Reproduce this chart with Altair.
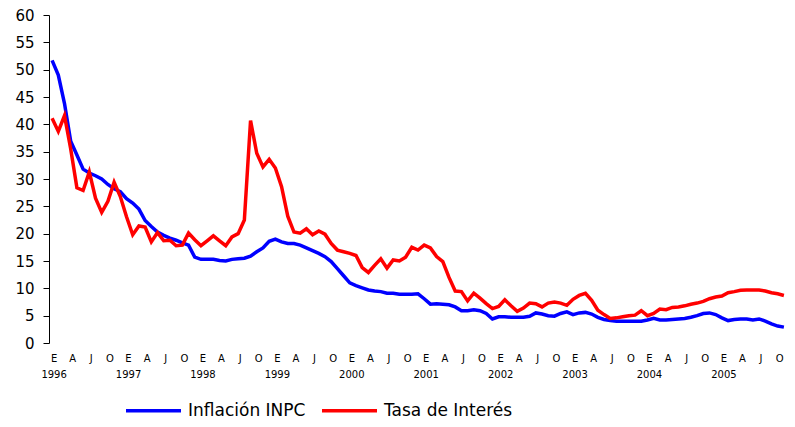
import altair as alt
import pandas as pd

# ---- data (Jan 1996 .. Nov 2005, monthly) ----
anios = [1996, 1997, 1998, 1999, 2000, 2001, 2002, 2003, 2004, 2005]
letras_trimestre = ["E", "A", "J", "O"]  # Enero, Abril, Julio, Octubre

inflacion = [
    51.7, 49.0, 43.8, 36.9, 34.4, 31.8, 31.1, 30.6, 30.0, 29.0, 28.2, 27.7,
    26.4, 25.6, 24.5, 22.4, 21.3, 20.3, 19.7, 19.2, 18.8, 18.3, 17.9, 15.7,
    15.3, 15.3, 15.3, 15.1, 15.0, 15.3, 15.4, 15.5, 15.9, 16.7, 17.4, 18.6,
    19.0, 18.5, 18.2, 18.2, 17.9, 17.4, 16.9, 16.4, 15.8, 14.9, 13.6, 12.3,
    11.0, 10.5, 10.1, 9.7, 9.5, 9.4, 9.1, 9.1, 8.9, 8.9, 8.9, 9.0,
    8.1, 7.1, 7.2, 7.1, 7.0, 6.6, 5.9, 5.9, 6.1, 5.9, 5.4, 4.4,
    4.8, 4.8, 4.7, 4.7, 4.7, 4.9, 5.5, 5.3, 5.0, 4.9, 5.4, 5.7,
    5.2, 5.5, 5.6, 5.3, 4.7, 4.3, 4.1, 4.0, 4.0, 4.0, 4.0, 4.0,
    4.2, 4.5, 4.2, 4.2, 4.3, 4.4, 4.5, 4.7, 5.0, 5.4, 5.5, 5.2,
    4.6, 4.1, 4.3, 4.4, 4.4, 4.2, 4.4, 4.0, 3.5, 3.1, 2.9,
]

tasa = [
    41.1, 38.7, 41.6, 35.5, 28.4, 27.9, 31.3, 26.5, 23.9, 25.9, 29.4, 26.8,
    23.1, 19.8, 21.4, 21.2, 18.5, 20.2, 18.7, 18.8, 17.8, 17.9, 20.1, 18.9,
    17.8, 18.7, 19.6, 18.7, 17.8, 19.4, 20.0, 22.5, 40.7, 34.7, 32.2, 33.6,
    32.0, 28.6, 23.2, 20.3, 20.1, 20.9, 19.8, 20.5, 19.9, 18.2, 17.0, 16.7,
    16.4, 16.0, 13.8, 12.9, 14.2, 15.4, 13.7, 15.2, 15.0, 15.7, 17.5, 17.0,
    17.9, 17.4, 15.8, 14.9, 12.0, 9.5, 9.4, 7.7, 9.1, 8.2, 7.2, 6.3,
    6.7, 7.9, 6.8, 5.8, 6.4, 7.3, 7.2, 6.6, 7.3, 7.5, 7.3, 6.9,
    8.0, 8.7, 9.1, 7.8, 6.0, 5.2, 4.5, 4.6, 4.8, 5.0, 5.1, 5.9,
    5.0, 5.4, 6.2, 6.1, 6.5, 6.6, 6.8, 7.1, 7.3, 7.6, 8.1, 8.4,
    8.6, 9.2, 9.4, 9.65, 9.7, 9.7, 9.7, 9.5, 9.2, 9.0, 8.7,
]

series = ["Inflación INPC", "Tasa de Interés"]
colores = ["#0000FF", "#FF0000"]

n = len(inflacion)
rows = []
for i in range(n):
    rows.append({"idx": i, "valor": inflacion[i], "serie": series[0]})
    rows.append({"idx": i, "valor": tasa[i], "serie": series[1]})
df = pd.DataFrame(rows)

q_rows = []
for i in range(n):
    if i % 3 == 0:
        q_rows.append({"idx": i, "txt": letras_trimestre[(i % 12) // 3]})
dq = pd.DataFrame(q_rows)
dy = pd.DataFrame({"idx": [k * 12 for k in range(len(anios))], "txt": [str(a) for a in anios]})

W, H = 738, 328
FONT = "DejaVu Sans"

xscale = alt.Scale(domain=[-0.5, n - 0.5], nice=False, zero=False)

lines = alt.Chart(df).mark_line(strokeWidth=3.5).encode(
    x=alt.X("idx:Q", scale=xscale,
            axis=alt.Axis(values=[i - 0.5 for i in range(n + 1)], labels=False, title=None,
                          grid=False, tickSize=4, tickColor="black", domainColor="black",
                          tickWidth=1, domainWidth=1)),
    y=alt.Y("valor:Q", scale=alt.Scale(domain=[0, 60], nice=False),
            axis=alt.Axis(values=list(range(0, 61, 5)), title=None, grid=False,
                          tickSize=6, tickColor="black", domainColor="black",
                          labelFont=FONT, labelFontSize=15, labelColor="black",
                          labelPadding=9)),
    color=alt.Color("serie:N", scale=alt.Scale(domain=series, range=colores),
                    legend=alt.Legend(title=None, orient="none", direction="horizontal",
                                      legendX=75, legendY=366, symbolType="stroke",
                                      symbolSize=3025, symbolStrokeWidth=3.5,
                                      labelFont=FONT, labelFontSize=17, labelColor="black",
                                      labelOffset=5, columnPadding=9, labelLimit=300)),
)

qlab = alt.Chart(dq).mark_text(font=FONT, fontSize=10, color="black", baseline="middle", dx=2).encode(
    x=alt.X("idx:Q", scale=xscale, axis=None),
    y=alt.value(H + 16),
    text="txt:N",
)

ylab = alt.Chart(dy).mark_text(font=FONT, fontSize=10, color="black", baseline="middle", dx=2).encode(
    x=alt.X("idx:Q", scale=xscale, axis=None),
    y=alt.value(H + 32),
    text="txt:N",
)

chart = alt.layer(lines, qlab, ylab).properties(
    width=W, height=H,
    padding={"left": 41, "top": 7, "right": 0, "bottom": 76},
    autosize=alt.AutoSizeParams(type="none"),
    background="white",
).configure_view(stroke=None)

chart.save("out.html", embed_options={"renderer": "svg", "actions": False})
